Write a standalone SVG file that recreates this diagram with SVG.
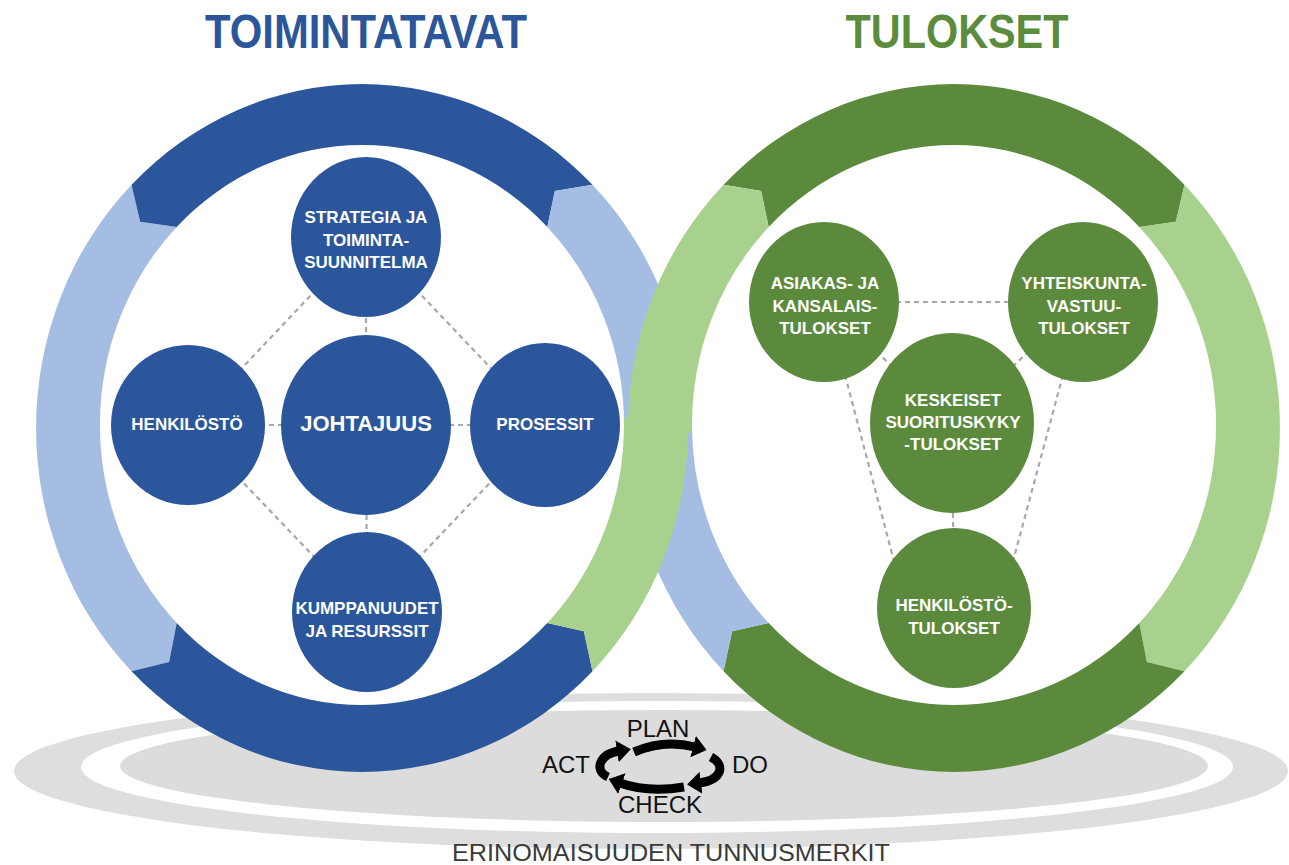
<svg xmlns="http://www.w3.org/2000/svg" width="1289" height="865" viewBox="0 0 1289 865">
<defs>
<style>
.db{fill:#2b569b}.lb{fill:#a5bde3}.dg{fill:#5c8a3d}.lg{fill:#a9d18e}
.nb{fill:#2b569b}.ng{fill:#5c8a3d}
.lbl{font-family:"Liberation Sans",Arial,sans-serif;font-weight:bold;font-size:17px;fill:#fff;text-anchor:middle}
.big{font-size:22px}
.title{font-family:"Liberation Sans Narrow","Liberation Sans",Arial,sans-serif;font-weight:bold;font-size:48px;text-anchor:middle}
.pd{font-family:"Liberation Sans",Arial,sans-serif;font-size:24px;fill:#111;text-anchor:middle}
.foot{font-family:"Liberation Sans",Arial,sans-serif;font-size:24px;fill:#3a3a3a;text-anchor:middle}
.dash{stroke:#a8a8a8;stroke-width:2.2;stroke-dasharray:5 4;fill:none}
.arr{stroke:#000;stroke-width:9;fill:none;marker-end:url(#ah)}
</style>
<marker id="ah" viewBox="0 0 14 22" refX="2" refY="11" markerWidth="14" markerHeight="22" markerUnits="userSpaceOnUse" orient="auto"><path d="M0,0 L14,11 L0,22 Z" fill="#000"/></marker>
</defs>
<rect width="1289" height="865" fill="#fff"/>
<g id="base">
<ellipse cx="651" cy="771" rx="637" ry="78" fill="#dedede"/>
<ellipse cx="657" cy="767" rx="576" ry="66" fill="#fff"/>
<ellipse cx="664" cy="766" rx="544" ry="56" fill="#dcdcdc"/>
</g>
<g id="ring-left">
<ellipse cx="362" cy="425" rx="262" ry="280" fill="#fff"/>
<path class="lb" d="M 131.5 671.2 A 326 344 0 0 1 131.5 184.8 L 140.1 221.8 L 176.7 227 A 262 280 0 0 0 176.7 623 L 169.1 662 Z"/>
<path class="db" d="M 131.5 184.8 A 326 344 0 0 1 592.5 184.8 L 554.9 191 L 547.3 227 A 262 280 0 0 0 176.7 227 L 140.1 221.8 Z"/>
<path class="db" d="M 592.5 671.2 A 326 344 0 0 1 131.5 671.2 L 169.1 662 L 176.7 623 A 262 280 0 0 0 547.3 623 L 583.9 631.2 Z"/>
</g>
<g id="ring-right">
<ellipse cx="954" cy="425" rx="262" ry="280" fill="#fff"/>
<path class="dg" d="M 723.5 184.8 A 326 344 0 0 1 1184.5 184.8 L 1175.9 221.8 L 1139.3 227 A 262 280 0 0 0 768.7 227 L 761.1 191 Z"/>
<path class="lg" d="M 1184.5 184.8 A 326 344 0 0 1 1184.5 671.2 L 1146.9 662 L 1139.3 623 A 262 280 0 0 0 1139.3 227 L 1175.9 221.8 Z"/>
<path class="dg" d="M 1184.5 671.2 A 326 344 0 0 1 723.5 671.2 L 732.1 631.2 L 768.7 623 A 262 280 0 0 0 1139.3 623 L 1146.9 662 Z"/>
</g>
<g id="crossing">
<path class="lb" d="M 592.5 184.8 A 326 344 0 0 1 688 428 L 624 425 A 262 280 0 0 0 547.3 227 L 554.9 191 Z"/>
<path class="lb" d="M 723.5 671.2 A 326 344 0 0 1 628 428 L 692 425 A 262 280 0 0 0 768.7 623 L 732.1 631.2 Z"/>
<path class="lg" d="M 628.1 437 A 326 344 0 0 1 723.5 184.8 L 761.1 191 L 768.7 227 A 262 280 0 0 0 692.1 432.3 Z"/>
<path class="lg" d="M 687.9 419 A 326 344 0 0 1 592.5 671.2 L 583.9 631.2 L 547.3 623 A 262 280 0 0 0 623.9 417.7 Z"/>
</g>
<g id="connectors">
<line class="dash" x1="366" y1="237" x2="188" y2="425"/>
<line class="dash" x1="366" y1="237" x2="545" y2="425"/>
<line class="dash" x1="188" y1="425" x2="367" y2="612"/>
<line class="dash" x1="545" y1="425" x2="367" y2="612"/>
<line class="dash" x1="366" y1="237" x2="366" y2="425"/>
<line class="dash" x1="188" y1="425" x2="545" y2="425"/>
<line class="dash" x1="366" y1="425" x2="367" y2="612"/>
<line class="dash" x1="824" y1="302" x2="1082" y2="302"/>
<line class="dash" x1="824" y1="302" x2="952" y2="423"/>
<line class="dash" x1="1082" y1="302" x2="952" y2="423"/>
<line class="dash" x1="952" y1="423" x2="954" y2="608"/>
<line class="dash" x1="845" y1="375" x2="895" y2="565"/>
<line class="dash" x1="1063" y1="375" x2="1012" y2="565"/>
</g>
<g id="node-strategia"><ellipse class="nb" cx="366" cy="237" rx="75" ry="80"/>
<text class="lbl" x="366" y="223">STRATEGIA JA</text><text class="lbl" x="366" y="246">TOIMINTA-</text><text class="lbl" x="366" y="268">SUUNNITELMA</text></g>
<g id="node-henkilosto"><ellipse class="nb" cx="188" cy="425" rx="77" ry="80"/>
<text class="lbl" x="187" y="430">HENKILÖSTÖ</text></g>
<g id="node-johtajuus"><ellipse class="nb" cx="366" cy="425" rx="85" ry="90"/>
<text class="lbl big" x="366" y="431">JOHTAJUUS</text></g>
<g id="node-prosessit"><ellipse class="nb" cx="545" cy="425" rx="75" ry="82"/>
<text class="lbl" x="545" y="430">PROSESSIT</text></g>
<g id="node-kumppanuudet"><ellipse class="nb" cx="367" cy="612" rx="75" ry="80"/>
<text class="lbl" x="367" y="614">KUMPPANUUDET</text><text class="lbl" x="367" y="637">JA RESURSSIT</text></g>
<g id="node-asiakas"><ellipse class="ng" cx="824" cy="302" rx="75" ry="80"/>
<text class="lbl" x="825" y="289">ASIAKAS- JA</text><text class="lbl" x="825" y="312">KANSALAIS-</text><text class="lbl" x="825" y="334">TULOKSET</text></g>
<g id="node-yhteiskunta"><ellipse class="ng" cx="1083" cy="302" rx="75" ry="80"/>
<text class="lbl" x="1084" y="289">YHTEISKUNTA-</text><text class="lbl" x="1084" y="312">VASTUU-</text><text class="lbl" x="1084" y="334">TULOKSET</text></g>
<g id="node-keskeiset"><ellipse class="ng" cx="952" cy="423" rx="82" ry="90"/>
<text class="lbl" x="953" y="406">KESKEISET</text><text class="lbl" x="953" y="428">SUORITUSKYKY</text><text class="lbl" x="953" y="450">-TULOKSET</text></g>
<g id="node-henkilostotulokset"><ellipse class="ng" cx="954" cy="608" rx="77" ry="80"/>
<text class="lbl" x="954" y="611">HENKILÖSTÖ-</text><text class="lbl" x="954" y="634">TULOKSET</text></g>
<g id="titles">
<text class="title" x="366" y="48" fill="#2b579a" textLength="322" lengthAdjust="spacingAndGlyphs">TOIMINTATAVAT</text>
<text class="title" x="957" y="48" fill="#5b8c3e" textLength="223" lengthAdjust="spacingAndGlyphs">TULOKSET</text>
</g>
<g id="pdca">
<path class="arr" d="M 634 752 Q 664 739 695 747"/>
<path class="arr" d="M 711 757 C 726 765 722 780 699 783"/>
<path class="arr" d="M 684 787 Q 648 793 620 783"/>
<path class="arr" d="M 608 777 C 593 770 600 754 619 751"/>
<text class="pd" x="658" y="737">PLAN</text>
<text class="pd" x="750" y="773">DO</text>
<text class="pd" x="660" y="813">CHECK</text>
<text class="pd" x="566" y="773">ACT</text>
</g>
<text class="foot" x="671" y="861" textLength="438" lengthAdjust="spacingAndGlyphs">ERINOMAISUUDEN TUNNUSMERKIT</text>
</svg>
